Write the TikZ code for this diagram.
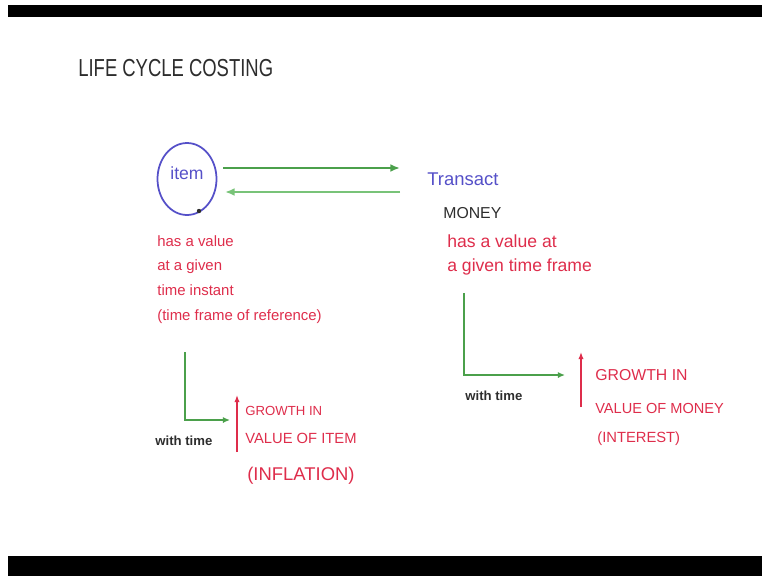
\documentclass[tikz,border=0pt]{standalone}
\usepackage{fontspec}
\setmainfont{Liberation Sans}
\usetikzlibrary{arrows.meta,shapes.geometric}
\definecolor{penred}{RGB}{222,45,75}
\definecolor{penblue}{RGB}{85,80,200}
\definecolor{pengreen}{RGB}{75,160,75}
\definecolor{palegreen}{RGB}{120,195,120}
\definecolor{pengray}{RGB}{45,45,45}
\tikzset{
  txt/.style={anchor=base west, inner sep=0pt},
  redtxt/.style={txt, text=penred, font=\fontsize{8.5}{10}\selectfont},
  capstxt/.style={txt, text=penred},
  blacktxt/.style={txt, text=pengray, font=\bfseries\fontsize{7.5}{9}\selectfont},
  flow/.style={draw=pengreen, line width=1.6pt, -{Latex[length=5.5pt,width=4.5pt]}},
  axis/.style={draw=pengreen, line width=1.2pt, -{Latex[length=4pt,width=3.5pt]}},
  rise/.style={draw=penred, line width=1.2pt, -{Latex[length=4pt,width=3pt]}}
}
\begin{document}
\begin{tikzpicture}[x=0.02cm,y=0.02cm]
  \useasboundingbox (0,0) rectangle (762,-576);
  \fill (8,-5) rectangle (762,-17); \fill (8,-556) rectangle (762,-576);

  \node[txt, text=pengray] (title) at (78,-76) {\scalebox{0.75}[1]{\fontsize{14}{16}\selectfont LIFE CYCLE COSTING}};

  \node[ellipse, draw=penblue, line width=1pt, minimum width=1.18cm, minimum height=1.44cm, inner sep=0pt,
        text=penblue, font=\fontsize{10}{12}\selectfont, text depth=7pt] (item) at (187,-179) {item};
  \fill[pengray] (199,-211) circle (2.2);
  \node[txt, text=penblue, font=\fontsize{10.5}{12}\selectfont] (transact) at (427,-185) {Transact};
  \node[txt, text=pengray, font=\fontsize{9}{11}\selectfont] (money) at (443,-218) {MONEY};

  \coordinate (go1) at (223,-168); \coordinate (go2) at (400,-168);
  \coordinate (back1) at (400,-192); \coordinate (back2) at (225,-192);
  \draw [flow] (go1) -- (go2); \draw [flow, draw=palegreen] (back1) -- (back2);

  \node[redtxt] (l1) at (157,-246) {has a value};
  \node[redtxt] (l2) at (157,-270) {at a given};
  \node[redtxt] (l3) at (157,-295) {time instant};
  \node[redtxt] (l4) at (157,-320) {(time frame of reference)};
  \node[redtxt, font=\fontsize{10}{12}\selectfont] (r1) at (447,-247) {has a value at};
  \node[redtxt, font=\fontsize{10}{12}\selectfont] (r2) at (447,-271) {a given time frame};

  \coordinate (ltop) at (185,-352); \coordinate (lo) at (185,-420); \coordinate (lend) at (230,-420);
  \draw [axis] (ltop) -- (lo) -- (lend);
  \node[blacktxt] (ltime) at (155,-445) {with time};
  \coordinate (lrb) at (237,-452); \coordinate (lrt) at (237,-395);
  \draw [rise] (lrb) -- (lrt);
  \node[capstxt, font=\fontsize{7.5}{9}\selectfont] (lg1) at (245,-415) {GROWTH IN};
  \node[capstxt, font=\fontsize{8.4}{10}\selectfont] (lg2) at (245,-443) {VALUE OF ITEM};
  \node[capstxt, font=\fontsize{10.5}{12}\selectfont] (lg3) at (247,-480) {(INFLATION)};

  \coordinate (rtop) at (464,-293); \coordinate (ro) at (464,-375); \coordinate (rend) at (565,-375);
  \draw [axis] (rtop) -- (ro) -- (rend);
  \node[blacktxt] (rtime) at (465,-400) {with time};
  \coordinate (rrb) at (581,-407); \coordinate (rrt) at (581,-352);
  \draw [rise] (rrb) -- (rrt);
  \node[capstxt, font=\fontsize{9}{11}\selectfont] (rg1) at (595,-380) {GROWTH IN};
  \node[capstxt, font=\fontsize{8.3}{10}\selectfont] (rg2) at (595,-413) {VALUE OF MONEY};
  \node[capstxt, font=\fontsize{8.4}{10}\selectfont] (rg3) at (597,-442) {(INTEREST)};
\end{tikzpicture}
\end{document}
